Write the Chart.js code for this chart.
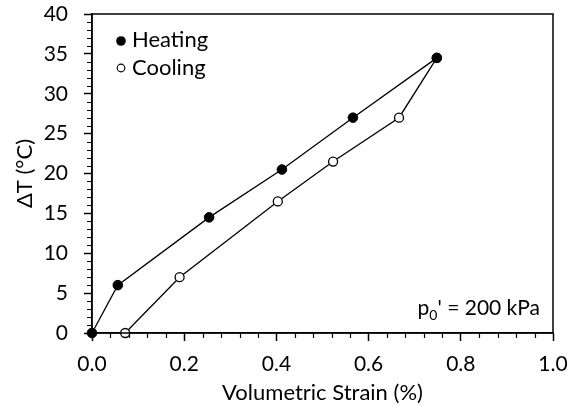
<!DOCTYPE html>
<html>
<head>
<meta charset="utf-8">
<script src="https://cdn.jsdelivr.net/npm/chart.js@4"></script>
<style>
  html, body { margin: 0; padding: 0; background: #fff; }
  #wrap { width: 575px; height: 407px; }
</style>
</head>
<body>
<div id="wrap"><canvas id="strainChart" width="575" height="407"></canvas></div>
<script>
// values
const heatX = [0, 0.056, 0.254, 0.412, 0.566, 0.748];
const heatY = [0, 6, 14.5, 20.5, 27, 34.5];
const coolX = [0.748, 0.666, 0.523, 0.403, 0.19, 0.072];
const coolY = [34.5, 27, 21.5, 16.5, 7, 0];
const seriesNames = ['Heating', 'Cooling'];
const xTicks = [0, 0.2, 0.4, 0.6, 0.8, 1.0];
const yTicks = [0, 5, 10, 15, 20, 25, 30, 35, 40];

const FONT = 'Lato, "Open Sans", sans-serif';

function pts(xs, ys) {
    return xs.map(function(x, i) { return { x: x, y: ys[i] }; });
}

// frame, minor ticks, legend and note
const extras = {
    id: 'extras',
    afterDraw: function(chart) {
        const c = chart.ctx;
        const a = chart.chartArea;
        const xs = chart.scales.x, ys = chart.scales.y;
        c.save();
        c.strokeStyle = '#000';
        c.lineWidth = 1.5;
        c.strokeRect(a.left, a.top, a.right - a.left, a.bottom - a.top);
        c.lineWidth = 1.2;
        c.beginPath();
        for (let i = 1; i < 25; i++) {
            if (i % 5 === 0) continue;
            const px = Math.round(xs.getPixelForValue(i * 0.04)) + 0.5;
            c.moveTo(px, a.bottom);
            c.lineTo(px, a.bottom + 5);
        }
        for (let j = 1; j < 40; j++) {
            if (j % 5 === 0) continue;
            const py = Math.round(ys.getPixelForValue(j)) + 0.5;
            c.moveTo(a.left, py);
            c.lineTo(a.left - 5, py);
        }
        c.stroke();

        // legend
        c.font = '22px ' + FONT;
        c.textBaseline = 'middle';
        c.fillStyle = '#000';
        c.beginPath();
        c.arc(121, 41, 4.8, 0, Math.PI * 2);
        c.fill();
        c.fillText(seriesNames[0], 132, 40);
        c.beginPath();
        c.arc(121, 68, 3.8, 0, Math.PI * 2);
        c.fillStyle = '#fff';
        c.fill();
        c.lineWidth = 1.2;
        c.stroke();
        c.fillStyle = '#000';
        c.fillText(seriesNames[1], 132, 68);

        // note
        const rest = '\' = 200 kPa';
        c.font = '21px ' + FONT;
        c.textAlign = 'left';
        const wRest = c.measureText(rest).width;
        const wP = c.measureText('p').width;
        c.font = '14px ' + FONT;
        const wSub = c.measureText('0').width;
        const x0 = 540 - wRest - wSub - wP;
        c.font = '21px ' + FONT;
        c.fillText('p', x0, 308);
        c.font = '14px ' + FONT;
        c.fillText('0', x0 + wP, 315);
        c.font = '21px ' + FONT;
        c.fillText(rest, x0 + wP + wSub, 308);
        c.restore();
    }
};

new Chart(document.getElementById('strainChart').getContext('2d'), {
    type: 'scatter',
    data: {
        datasets: [{
            label: seriesNames[0],
            data: pts(heatX, heatY),
            showLine: true,
            clip: false,
            borderColor: '#000',
            borderWidth: 1.3,
            pointRadius: 4.8,
            pointBackgroundColor: '#000',
            pointBorderColor: '#000',
            pointBorderWidth: 1
        }, {
            label: seriesNames[1],
            data: pts(coolX, coolY),
            showLine: true,
            clip: false,
            borderColor: '#000',
            borderWidth: 1.3,
            pointRadius: 4.5,
            pointBackgroundColor: '#fff',
            pointBorderColor: '#000',
            pointBorderWidth: 1.3
        }]
    },
    options: {
        responsive: false,
        animation: false,
        layout: { autoPadding: false, padding: { left: 0, top: 14, right: 22, bottom: 0 } },
        plugins: {
            legend: { display: false },
            tooltip: { enabled: false }
        },
        scales: {
            x: {
                type: 'linear',
                min: 0, max: 1,
                afterFit: function(s) { s.height = 74; s.paddingLeft = 0; s.paddingRight = 0; },
                afterBuildTicks: function(s) { s.ticks = xTicks.map(function(v) { return { value: v }; }); },
                grid: { drawOnChartArea: false, tickLength: 8, tickColor: '#000', tickWidth: 1.5 },
                border: { color: '#000', width: 1.5 },
                ticks: {
                    color: '#000', font: { family: FONT, size: 21 }, padding: 11,
                    callback: function(v) { return v.toFixed(1); }
                },
                title: {
                    display: true, text: 'Volumetric Strain (%)', color: '#000',
                    font: { family: FONT, size: 22 }, padding: { top: 0, bottom: 1 }
                }
            },
            y: {
                type: 'linear',
                min: 0, max: 40,
                afterFit: function(s) { s.width = 92; s.paddingTop = 0; s.paddingBottom = 0; },
                afterBuildTicks: function(s) { s.ticks = yTicks.map(function(v) { return { value: v }; }); },
                grid: { drawOnChartArea: false, tickLength: 8, tickColor: '#000', tickWidth: 1.5 },
                border: { color: '#000', width: 1.5 },
                ticks: { color: '#000', font: { family: FONT, size: 21 }, padding: 16 },
                title: {
                    display: true, text: 'ΔT (°C)', color: '#000',
                    font: { family: FONT, size: 22 }, padding: { top: 12, bottom: 0 }
                }
            }
        }
    },
    plugins: [extras]
});
</script>
</body>
</html>
